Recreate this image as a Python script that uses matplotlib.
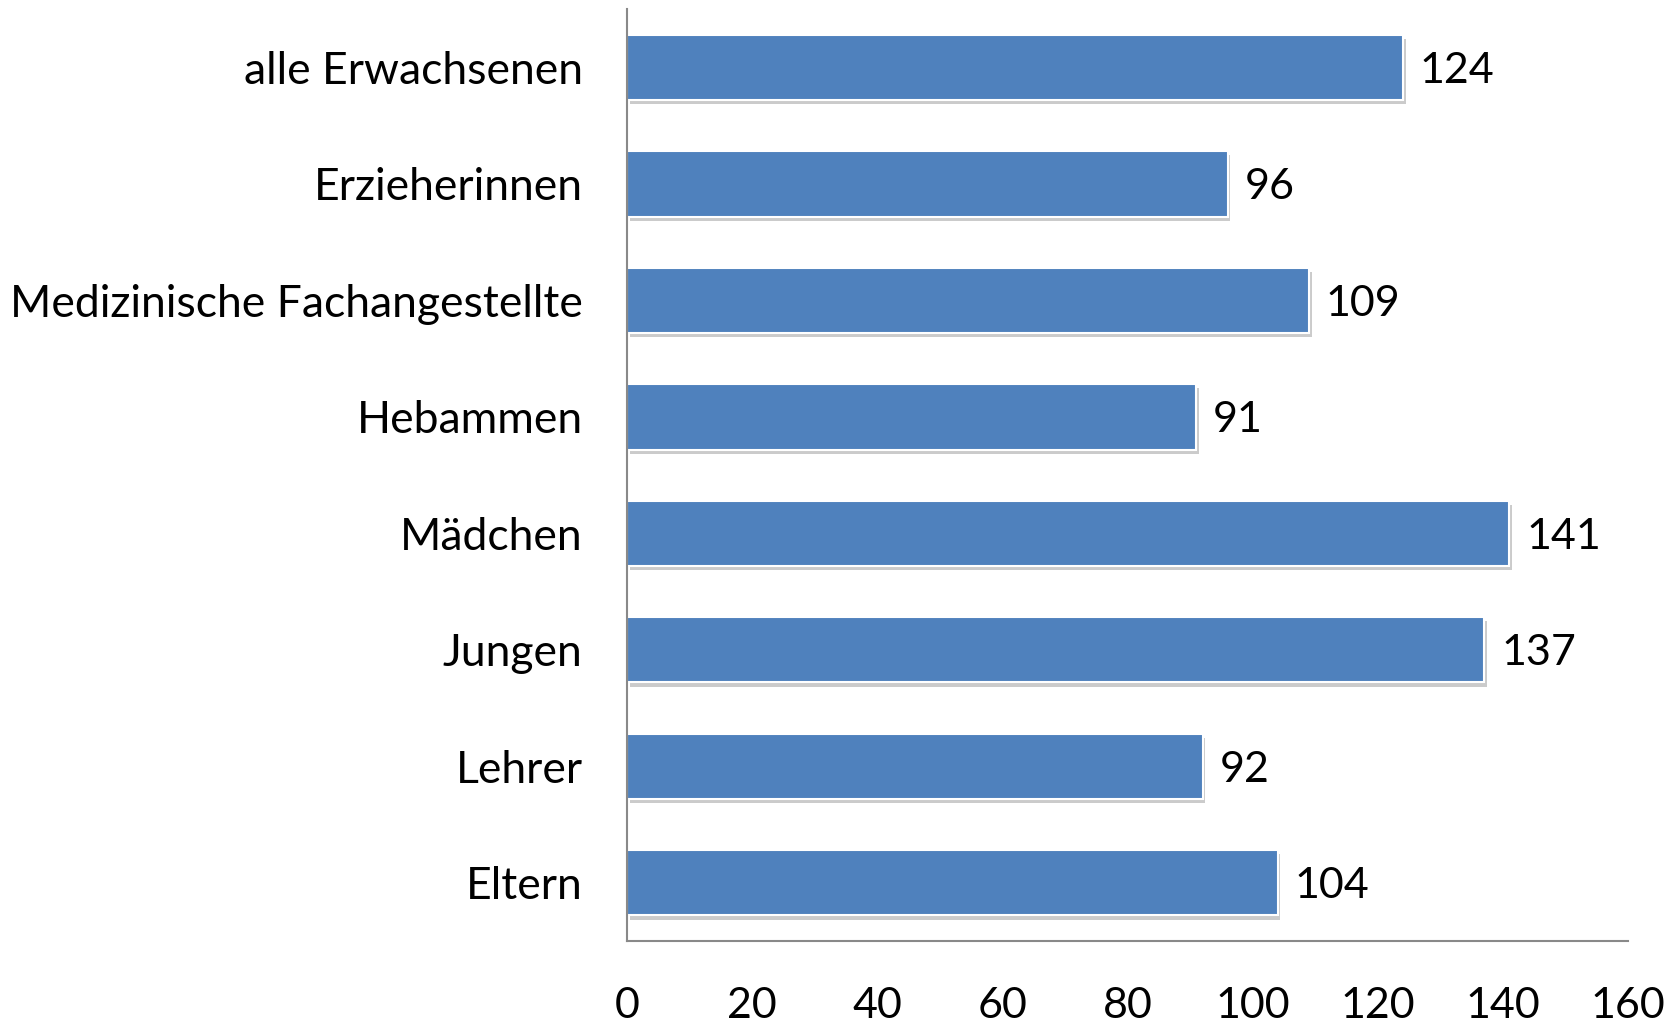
import matplotlib
matplotlib.use('Agg')
import matplotlib.pyplot as plt
import matplotlib.patheffects as pe

plt.rcParams['font.family'] = ['Lato', 'DejaVu Sans']

categories = ['alle Erwachsenen', 'Erzieherinnen', 'Medizinische Fachangestellte',
              'Hebammen', 'Mädchen', 'Jungen', 'Lehrer', 'Eltern']
values = [124, 96, 109, 91, 141, 137, 92, 104]
xticks = [0, 20, 40, 60, 80, 100, 120, 140, 160]

fig = plt.figure(figsize=(16.81, 10.24), dpi=100)
ax = fig.add_axes([0.373, 0.081, 0.5955, 0.91])

pos = list(range(len(categories)))[::-1]
bars = ax.barh(pos, values, height=0.56, color='#4F81BD', edgecolor='white', linewidth=1.5)
for b in bars:
    # soft drop shadow like the office chart
    b.set_path_effects([pe.SimplePatchShadow(offset=(2, -3), shadow_rgbFace='#999999', alpha=0.5),
                        pe.Normal()])

for p, v in zip(pos, values):
    ax.text(v + 2.7, p - 0.03, str(v), va='center', ha='left', fontsize=31)

ax.set_xlim(0, 160)
ax.set_ylim(-0.5, 7.5)
ax.set_xticks(xticks)
ax.set_xticklabels([str(t) for t in xticks], fontsize=31)
ax.set_yticks(pos)
ax.set_yticklabels(categories, fontsize=32)
ax.tick_params(axis='x', length=0, pad=33)
ax.tick_params(axis='y', length=0, pad=32)

for s in ['top', 'right']:
    ax.spines[s].set_visible(False)
for s in ['left', 'bottom']:
    ax.spines[s].set_color('#898989')
    ax.spines[s].set_linewidth(1.5)

fig.savefig('out.png', dpi=100)
